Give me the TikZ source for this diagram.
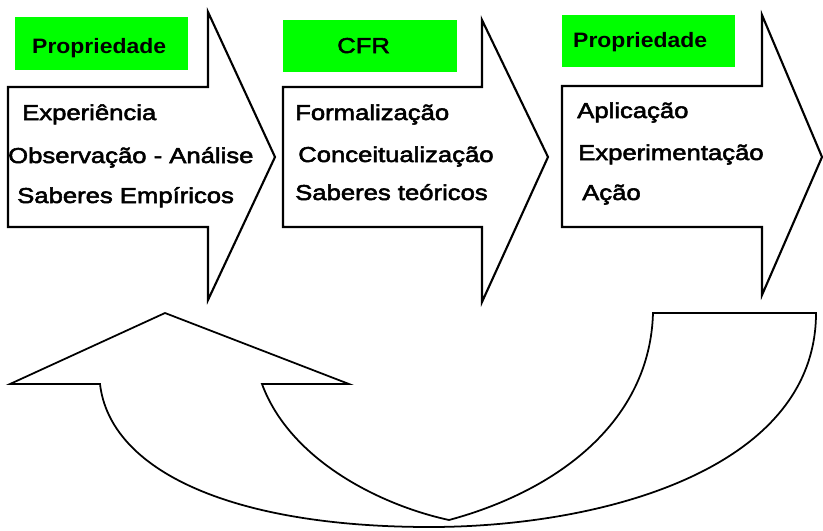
\documentclass[tikz,border=0pt]{standalone}
\usepackage{fontspec}
\newfontfamily\diagfont[FakeStretch=1.19, FakeBold=2.5]{Liberation Sans}
\newfontfamily\titfont[FakeStretch=1.1]{Liberation Sans Bold}
\definecolor{verde}{RGB}{0,255,0}

\begin{document}
\begin{tikzpicture}[
	x=0.03cm,
	y=-0.03cm,
	line join=miter,
	seta/.style={
		draw,
		fill=white,
		line width=1.8pt
	},
	caixa/.style={
		fill=verde,
		rectangle,
		inner sep =+ 0pt
	},
	titulo/.style={
		anchor=base west,
		inner sep =+ 0pt,
		font=\titfont\fontsize{17.8}{19}\selectfont
	},
	rotulo/.style={
		anchor=base west,
		inner sep =+ 0pt,
		font=\diagfont\fontsize{18.4}{20}\selectfont
	}
]
\useasboundingbox (0,0) rectangle (823,530);

% setas de cima
\draw[seta] (8,87) -- (208,87) -- (208,12) -- (275,157) -- (208,300) -- (208,227) -- (8,227) -- cycle;
\draw[seta] (283,87) -- (482,87) -- (482,20) -- (548,157) -- (482,302) -- (482,227) -- (283,227) -- cycle;
\draw[seta] (562,86) -- (762,86) -- (762,15) -- (822,157) -- (762,295) -- (762,227) -- (562,227) -- cycle;

% seta de retorno
\draw[seta, line width=1.5pt] (653,313) -- (816,313)
	.. controls (816,470) and (600,527) .. (430,527)
	.. controls (230,527) and (110,470) .. (100,384)
	-- (10,384) -- (165,313) -- (349,384) -- (262,384)
	.. controls (290,460) and (380,505) .. (449,520)
	.. controls (560,490) and (650,420) .. (653,313) -- cycle;

% caixas verdes
\node[caixa, minimum width=173*0.03cm, minimum height=53*0.03cm] (g1) at (101.5,43.5) {};
\node[caixa, minimum width=174*0.03cm, minimum height=52*0.03cm] (g2) at (370,46) {};
\node[caixa, minimum width=173*0.03cm, minimum height=52*0.03cm] (g3) at (648.5,41) {};

\node[titulo] (p1) at (32,53) {Propriedade};
\node[rotulo] (cfr) at (337,53) {CFR};
\node[titulo] (p3) at (573,47) {Propriedade};

\node[rotulo] (exp) at (22,120) {Experiência};
\node[rotulo] (obs) at (8,163) {Observação - Análise};
\node[rotulo] (emp) at (17,203) {Saberes Empíricos};

\node[rotulo] (form) at (295,120) {Formalização};
\node[rotulo] (conc) at (298,162) {Conceitualização};
\node[rotulo] (teo) at (295,200) {Saberes teóricos};

\node[rotulo] (apl) at (577,118) {Aplicação};
\node[rotulo] (expm) at (578,160) {Experimentação};
\node[rotulo] (acao) at (582,200) {Ação};

\end{tikzpicture}
\end{document}
